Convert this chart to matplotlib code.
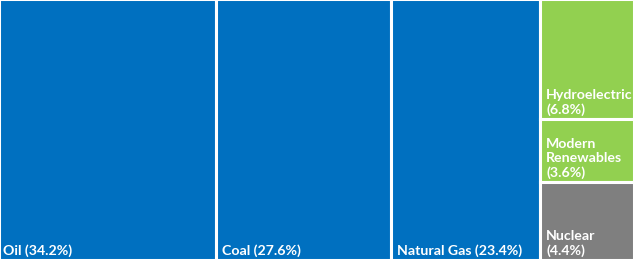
import matplotlib
matplotlib.use("Agg")
import matplotlib.pyplot as plt
from matplotlib.patches import Rectangle

main_labels = ["Oil", "Coal", "Natural Gas"]
main_values = [34.2, 27.6, 23.4]
side_labels = ["Hydroelectric", "Modern\nRenewables", "Nuclear"]
side_values = [6.8, 3.6, 4.4]

BLUE = "#0070C0"
GREEN = "#92D050"
GRAY = "#7F7F7F"
side_colors = [GREEN, GREEN, GRAY]

W, H = 637, 264
fig = plt.figure(figsize=(W / 100, H / 100), dpi=100)
# axes spans pixels x -1..634, y -1..260 (from top)
ax = fig.add_axes([-1 / W, (H - 260) / H, 635 / W, 261 / H])
total = sum(main_values) + sum(side_values)
ax.set_xlim(0, total)
ax.set_ylim(1, 0)
ax.axis("off")

font = dict(family="Lato", weight="bold", size=10.2, color="white")
pad_x = 0.95
pad_y = 0.012
lw = 2.2
x = 0.0
for lab, v in zip(main_labels, main_values):
    ax.add_patch(Rectangle((x, 0), v, 1, facecolor=BLUE, edgecolor="white", linewidth=lw))
    ax.text(x + pad_x * (0.6 if x == 0 else 1), 1 - pad_y, f"{lab} ({v}%)",
            ha="left", va="bottom", **font)
    x += v

side_total = sum(side_values)
y = 0.0
for lab, v, c in zip(side_labels, side_values, side_colors):
    h = v / side_total
    ax.add_patch(Rectangle((x, y), side_total, h, facecolor=c, edgecolor="white", linewidth=lw))
    ax.text(x + pad_x, y + h - pad_y, f"{lab}\n({v}%)", ha="left", va="bottom",
            linespacing=1.2, **font)
    y += h

fig.savefig("out.png", dpi=100, facecolor="white")
